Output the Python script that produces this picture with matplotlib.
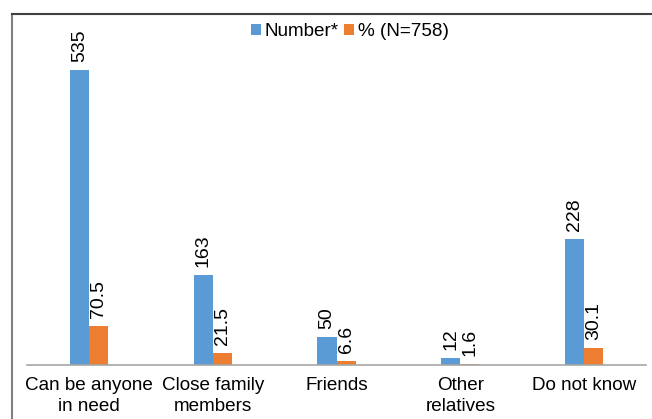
import matplotlib
matplotlib.use("Agg")
import matplotlib.pyplot as plt
import numpy as np
from matplotlib.lines import Line2D

plt.rcParams["font.family"] = ["Liberation Sans", "DejaVu Sans"]

categories = ["Can be anyone\nin need", "Close family\nmembers", "Friends",
              "Other\nrelatives", "Do not know"]
number = [535, 163, 50, 12, 228]
percent = [70.5, 21.5, 6.6, 1.6, 30.1]
number_labels = ["535", "163", "50", "12", "228"]
percent_labels = ["70.5", "21.5", "6.6", "1.6", "30.1"]

BLUE = "#5B9BD5"
ORANGE = "#ED7D31"

W, H = 652, 419
fig = plt.figure(figsize=(W / 100, H / 100), dpi=100)

# plot area: baseline at y=365 px, x from 27 to 646 px
ax = fig.add_axes([27 / W, 1 - 365 / H, 619 / W, 330.8 / H])
x = np.arange(len(categories))
bw = 0.155
b1 = ax.bar(x - bw / 2, number, bw, color=BLUE, label="Number*")
b2 = ax.bar(x + bw / 2, percent, bw, color=ORANGE, label="% (N=758)")

for rects, labs in ((b1, number_labels), (b2, percent_labels)):
    for r, t in zip(rects, labs):
        ax.annotate(t, (r.get_x() + r.get_width() / 2, r.get_height()),
                    xytext=(0, 6), textcoords="offset points",
                    rotation=90, ha="center", va="bottom", fontsize=14)

ax.set_xlim(-0.5, len(categories) - 0.5)
ax.set_ylim(0, 600)
ax.set_yticks([])
ax.set_xticks(x)
ax.set_xticklabels(categories, fontsize=13.6, linespacing=1.35)
ax.tick_params(axis="x", length=0, pad=8.5)
for s in ("top", "right", "left"):
    ax.spines[s].set_visible(False)
ax.spines["bottom"].set_color("#A6A6A6")
ax.spines["bottom"].set_linewidth(1.2)

ax.legend(loc="center", bbox_to_anchor=((350 - 27) / 619, (365 - 32) / 330.8),
          ncol=2, frameon=False, fontsize=13.6, handlelength=0.5, handleheight=0.5,
          handletextpad=0.2, columnspacing=0.3, borderaxespad=0, borderpad=0)

# chart frame (left and top edges only visible in the crop)
fig.add_artist(Line2D([11.5 / W, 11.5 / W], [0, 1 - 14 / H], color="#808080", lw=1.5))
fig.add_artist(Line2D([11.5 / W, 1], [1 - 14 / H, 1 - 14 / H], color="#404040", lw=1.5))

fig.savefig("out.png", dpi=100, facecolor="white")
